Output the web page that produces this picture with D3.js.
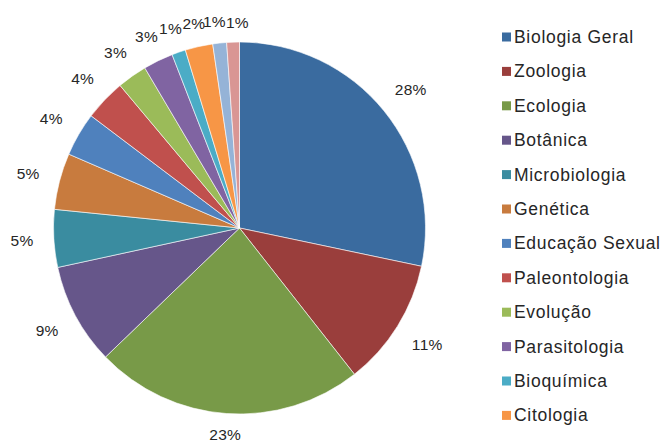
<!DOCTYPE html>
<html>
<head>
<meta charset="utf-8">
<script src="https://cdn.jsdelivr.net/npm/d3@7"></script>
<style>
  html, body { margin: 0; padding: 0; background: #fff; }
  svg { display: block; }
</style>
</head>
<body>
<svg id="chart" width="671" height="442"></svg>
<script>
// ---- data ----
const categories = ["Biologia Geral", "Zoologia", "Ecologia", "Botânica", "Microbiologia", "Genética",
  "Educação Sexual", "Paleontologia", "Evolução", "Parasitologia", "Bioquímica", "Citologia",
  "Outros 1", "Outros 2"];
const values = [28.3, 11.1, 23.4, 8.8, 5.0, 4.9, 3.8, 3.6, 2.6, 2.6, 1.2, 2.4, 1.2, 1.1];
const colors = ["#3A6B9F", "#9A3E3C", "#789A48", "#66568A", "#3A8CA0", "#C87B3E",
  "#4F81BD", "#C0504D", "#9BBB59", "#8064A2", "#4BACC6", "#F79646", "#95B3D7", "#D99694"];
const legendCount = 12; // legend is truncated in the original

// ---- layout ----
const svg = d3.select("#chart");
const cx = 239.5, cy = 228, r = 186;
const total = d3.sum(values);
const data = categories.map((c, i) => ({ name: c, value: values[i], color: colors[i] }));

const pie = d3.pie().value(d => d.value).sort(null);
const arcs = pie(data);
const arc = d3.arc().innerRadius(0).outerRadius(r);

const g = svg.append("g").attr("transform", `translate(${cx},${cy})`);
g.selectAll("path").data(arcs).enter().append("path")
  .attr("d", arc)
  .attr("fill", d => d.data.color)
  .attr("stroke", "#fff")
  .attr("stroke-width", 0.6);

const fmt = v => Math.round(v / total * 100) + "%";
const n = arcs.length;
g.selectAll("text.lbl").data(arcs).enter().append("text")
  .attr("class", "lbl")
  .style("font-family", "'Liberation Sans', Arial, sans-serif")
  .style("font-size", "15.5px")
  .style("letter-spacing", "0.3px")
  .attr("fill", "#262626")
  .attr("text-anchor", "middle")
  .attr("dominant-baseline", "central")
  .text(d => fmt(d.data.value))
  .each(function(d, i) {
    const a = (d.startAngle + d.endAngle) / 2;
    const s = Math.sin(a), c = Math.cos(a);
    const w = this.getComputedTextLength();
    const h = 11;
    const R = r + 14 + (w / 2 + 6) * Math.abs(s) + (h / 2) * Math.abs(c);
    let x = R * s;
    if (i === n - 1) x += 5;
    if (i === n - 2) x -= 3;
    d3.select(this).attr("x", x).attr("y", -R * c);
  });

// ---- legend ----
const legend = svg.append("g");
const ly0 = 37, lstep = 34.4;
const items = legend.selectAll("g").data(data.slice(0, legendCount)).enter().append("g")
  .attr("transform", (d, i) => `translate(502,${ly0 + i * lstep})`);
items.append("rect").attr("x", 0).attr("y", -4.5).attr("width", 9).attr("height", 9)
  .attr("fill", d => d.color);
items.append("text")
  .attr("x", 12).attr("y", 0)
  .attr("dominant-baseline", "central")
  .style("font-family", "'Liberation Sans', Arial, sans-serif")
  .style("font-size", "17.5px")
  .style("letter-spacing", "0.7px")
  .attr("fill", "#262626")
  .text(d => d.name);
</script>
</body>
</html>
